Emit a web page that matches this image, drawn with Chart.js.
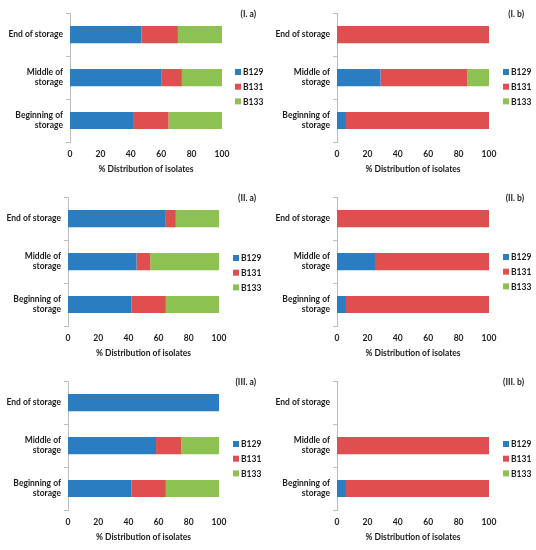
<!DOCTYPE html>
<html><head><meta charset="utf-8">
<script src="https://cdn.jsdelivr.net/npm/chart.js@4.4.1/dist/chart.umd.min.js"></script>
<style>
body{margin:0;background:#fff;width:536px;height:550px;position:relative;overflow:hidden}
.p{position:absolute;width:268px;height:182px}
</style></head><body>
<div class="p" style="left:0;top:0"><canvas id="c0" width="268" height="182"></canvas></div>
<div class="p" style="left:268px;top:0"><canvas id="c1" width="268" height="182"></canvas></div>
<div class="p" style="left:0;top:184px"><canvas id="c2" width="268" height="182"></canvas></div>
<div class="p" style="left:268px;top:184px"><canvas id="c3" width="268" height="182"></canvas></div>
<div class="p" style="left:0;top:368px"><canvas id="c4" width="268" height="182"></canvas></div>
<div class="p" style="left:268px;top:368px"><canvas id="c5" width="268" height="182"></canvas></div>
<script>
const categories = ["End of storage", ["Middle of", "storage"], ["Beginning of", "storage"]];
const seriesNames = ["B129", "B131", "B133"];
const xTicks = [0, 20, 40, 60, 80, 100];
const panelTitles = ["(I. a)", "(I. b)", "(II. a)", "(II. b)", "(III. a)", "(III. b)"];
const axisTitle = "% Distribution of isolates";

// values per panel, order: End, Middle, Beginning
const Ia_B129 = [47, 60, 42];
const Ia_B131 = [24, 13.6, 22.8];
const Ia_B133 = [29, 26.4, 35.2];
const Ib_B129 = [0, 28.6, 5.9];
const Ib_B131 = [100, 57.1, 94.1];
const Ib_B133 = [0, 14.3, 0];
const IIa_B129 = [64.3, 45.4, 42];
const IIa_B131 = [7.1, 9.1, 22.8];
const IIa_B133 = [28.6, 45.5, 35.2];
const IIb_B129 = [0, 25, 5.9];
const IIb_B131 = [100, 75, 94.1];
const IIb_B133 = [0, 0, 0];
const IIIa_B129 = [100, 58.3, 42];
const IIIa_B131 = [0, 16.7, 22.8];
const IIIa_B133 = [0, 25, 35.2];
const IIIb_B129 = [null, 0, 5.9];
const IIIb_B131 = [null, 100, 94.1];
const IIIb_B133 = [null, 0, 0];

const panelData = [
  [Ia_B129, Ia_B131, Ia_B133],
  [Ib_B129, Ib_B131, Ib_B133],
  [IIa_B129, IIa_B131, IIa_B133],
  [IIb_B129, IIb_B131, IIb_B133],
  [IIIa_B129, IIIa_B131, IIIa_B133],
  [IIIb_B129, IIIb_B131, IIIb_B133]
];

const colors = ["#2a7dc1", "#e04f4f", "#8dc152"];
const FONT = 'Lato, "Liberation Sans", Arial, sans-serif';
const TEXT = '#1a1a1a';
const FS = 8.5;
const leftW = [70, 69, 68, 69, 68, 69];
const padRight = [46, 47, 49, 47, 49, 47];
const legendPos = [[235, 72], [235, 72], [233, 74], [235, 73], [233, 76], [235, 76]];

const panelLabel = {
  id: 'panelLabel',
  afterDraw(chart, args, opts) {
    const ctx = chart.ctx;
    ctx.save();
    ctx.font = 'bold ' + FS + 'px ' + FONT;
    ctx.fillStyle = TEXT;
    ctx.textAlign = 'right';
    ctx.textBaseline = 'middle';
    ctx.fillText(opts.text, 256, 14);
    ctx.restore();
  }
};

const sideLegend = {
  id: 'sideLegend',
  afterDraw(chart, args, opts) {
    const ctx = chart.ctx;
    ctx.save();
    ctx.font = 'bold ' + FS + 'px ' + FONT;
    ctx.textAlign = 'left';
    ctx.textBaseline = 'middle';
    chart.data.datasets.forEach((ds, k) => {
      const y = opts.y + k * 14.7;
      ctx.fillStyle = ds.backgroundColor;
      ctx.fillRect(opts.x, y - 3, 6, 6);
      ctx.fillStyle = TEXT;
      ctx.fillText(ds.label, opts.x + 8, y + 0.5);
    });
    ctx.restore();
  }
};

const tickFont = { family: FONT, size: FS, weight: 'bold' };

panelData.forEach((series, i) => {
  new Chart(document.getElementById('c' + i), {
    type: 'bar',
    plugins: [panelLabel, sideLegend],
    data: {
      labels: categories,
      datasets: series.map((vals, k) => ({
        label: seriesNames[k],
        data: vals,
        backgroundColor: colors[k],
        borderWidth: 0,
        barPercentage: 0.4,
        categoryPercentage: 1.0
      }))
    },
    options: {
      indexAxis: 'y',
      responsive: false,
      animation: false,
      layout: { padding: { top: 13, right: padRight[i], bottom: 2, left: 0 } },
      plugins: {
        panelLabel: { text: panelTitles[i] },
        sideLegend: { x: legendPos[i][0], y: legendPos[i][1] },
        tooltip: { enabled: false },
        legend: { display: false }
      },
      scales: {
        x: {
          stacked: true, min: 0, max: 100,
          afterBuildTicks(scale) { scale.ticks = xTicks.map(v => ({ value: v })); },
          grid: { display: false, drawTicks: false },
          border: { display: false },
          ticks: { color: TEXT, font: tickFont, padding: 7 },
          title: { display: true, text: axisTitle, color: TEXT, font: tickFont, padding: { top: 4, bottom: 6 } },
          afterFit(scale) { scale.height = 38; }
        },
        y: {
          stacked: true,
          grid: { drawOnChartArea: false, drawTicks: true, tickLength: 4, color: '#bdbdbd', offset: true },
          border: { display: true, color: '#bdbdbd' },
          ticks: { color: TEXT, font: tickFont, padding: 3, crossAlign: 'near' },
          afterFit(scale) { scale.width = leftW[i]; }
        }
      }
    }
  });
});
</script>
</body></html>
